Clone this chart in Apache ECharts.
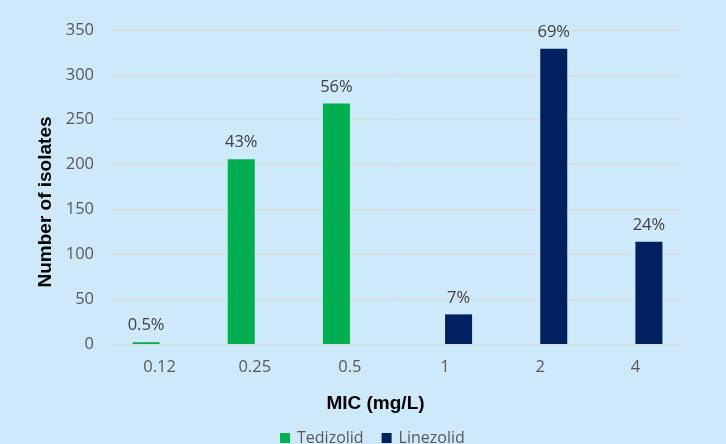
<!DOCTYPE html>
<html><head><meta charset="utf-8">
<script src="https://cdn.jsdelivr.net/npm/echarts@6/dist/echarts.min.js"></script>
<style>html,body{margin:0;padding:0;background:#CDE9FA;}#c{width:726px;height:444px;}</style>
</head><body><div id="c"></div>
<script>
const categories = ['0.12','0.25','0.5','1','2','4'];
const tedizolid = [2, 206, 268, null, null, null];
const linezolid = [null, null, null, 33, 329, 114];
const tedizolidPct = ['0.5%','43%','56%','','',''];
const linezolidPct = ['','','','7%','69%','24%'];

const chart = echarts.init(document.getElementById('c'), null, {renderer:'canvas'});
const labelStyle = (arr) => ({
  show: true, position: 'top', distance: 8,
  color: '#404040', fontSize: 16.5, fontFamily: 'Open Sans',
  formatter: p => arr[p.dataIndex]
});
chart.setOption({
  backgroundColor: '#CDE9FA',
  animation: false,
  grid: {left: 112, right: 43, top: 30, bottom: 100},
  legend: {
    top: 425, left: 275, itemWidth: 10, itemHeight: 10, itemGap: 18,
    icon: 'rect',
    textStyle: {color: '#595959', fontSize: 16, fontFamily: 'Open Sans', padding: [0, 0, 0, 2]},
    data: ['Tedizolid','Linezolid']
  },
  xAxis: {
    type: 'category', data: categories,
    name: 'MIC (mg/L)', nameLocation: 'middle', nameGap: 50,
    nameTextStyle: {color: '#000', fontWeight: 'bold', fontSize: 19, fontFamily: 'Liberation Sans', padding: [0, 44, 0, 0]},
    axisLine: {lineStyle: {color: '#D9D9D9', width: 1}},
    axisTick: {show: false},
    axisLabel: {color: '#595959', fontSize: 16.5, fontFamily: 'Open Sans', margin: 15}
  },
  yAxis: {
    type: 'value', min: 0, max: 350, interval: 50,
    name: 'Number of isolates', nameLocation: 'middle', nameGap: 47, nameRotate: 90,
    nameTextStyle: {color: '#000', fontWeight: 'bold', fontSize: 19, fontFamily: 'Liberation Sans', padding: [0, 30, 0, 0]},
    axisLine: {show: false}, axisTick: {show: false},
    splitLine: {lineStyle: {color: '#D9D9D9', width: 1}},
    axisLabel: {color: '#595959', fontSize: 16.5, fontFamily: 'Open Sans', margin: 18}
  },
  series: [
    {name: 'Tedizolid', type: 'bar', data: tedizolid, barWidth: 27, barGap: '0%',
     itemStyle: {color: '#00B050'}, label: labelStyle(tedizolidPct)},
    {name: 'Linezolid', type: 'bar', data: linezolid, barWidth: 27, barGap: '0%',
     itemStyle: {color: '#002060'}, label: labelStyle(linezolidPct)}
  ]
});
</script></body></html>
